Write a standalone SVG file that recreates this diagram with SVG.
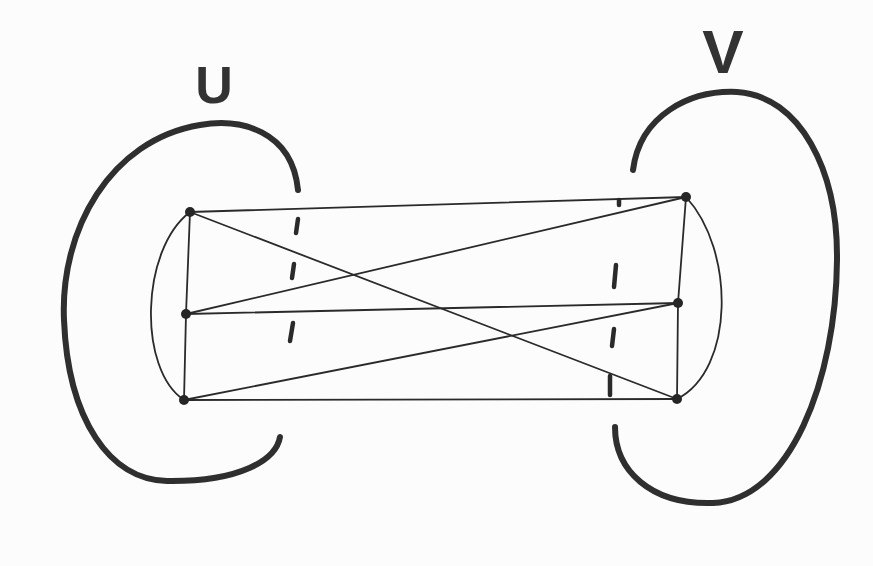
<svg xmlns="http://www.w3.org/2000/svg" width="873" height="566" viewBox="0 0 873 566">
<style>
.edge{fill:none;stroke:#2a2a2a;stroke-width:1.8;stroke-linecap:round}
.big{fill:none;stroke:#2f2f2f;stroke-width:6;stroke-linecap:round}
.dash{fill:none;stroke:#2a2a2a;stroke-width:4.5;stroke-linecap:round}
.node{fill:#262626}
.lbl{font-family:"Liberation Sans",Arial,sans-serif;font-weight:bold;fill:#333}
</style>
<rect width="873" height="566" fill="#fcfcfc"/>
<g id="labels">
<text class="lbl" x="214" y="103" font-size="52" text-anchor="middle">U</text>
<text class="lbl" x="723" y="73" font-size="62" text-anchor="middle">V</text>
</g>
<g id="connectors">
<path class="edge" d="M190,212 L686,197"/>
<path class="edge" d="M190,212 L677,399"/>
<path class="edge" d="M186,314 L686,197"/>
<path class="edge" d="M186,314 L678,303"/>
<path class="edge" d="M184,400 L678,303"/>
<path class="edge" d="M184,400 L677,399"/>
<path class="edge" d="M190,212 L186,314 L184,400"/>
<path class="edge" d="M686,197 L678,303 L677,399"/>
<path class="edge" d="M190,212 C140,250 138,370 184,400"/>
<path class="edge" d="M686,197 C735,250 735,370 677,399"/>
</g>
<g id="U-set">
<path class="big" d="M298,190 C292,130 240,118 200,125 C110,140 60,230 64,320 C68,420 110,480 167,481 C240,482 276,460 280,437"/>
</g>
<g id="V-set">
<path class="big" d="M633,170 C640,115 690,90 737,92 C800,96 838,170 837,260 C836,380 790,500 713,503 C650,505 615,470 615,427"/>
</g>
<g id="ticks">
<path class="dash" d="M298,219 L296,233" stroke-width="2.5"/>
<path class="dash" d="M294,264 L292,278" stroke-width="5.5"/>
<path class="dash" d="M293,323 L290,341"/>
<path class="dash" d="M619,200 L619,205"/>
<path class="dash" d="M616,265 L614,287"/>
<path class="dash" d="M614,329 L612,346"/>
<path class="dash" d="M610,376 L610,395"/>
</g>
<g id="n-L1"><circle class="node" cx="190" cy="212" r="5"/></g>
<g id="n-L2"><circle class="node" cx="186" cy="314" r="5"/></g>
<g id="n-L3"><circle class="node" cx="184" cy="400" r="5"/></g>
<g id="n-R1"><circle class="node" cx="686" cy="197" r="5"/></g>
<g id="n-R2"><circle class="node" cx="678" cy="303" r="5"/></g>
<g id="n-R3"><circle class="node" cx="677" cy="399" r="5"/></g>
</svg>
